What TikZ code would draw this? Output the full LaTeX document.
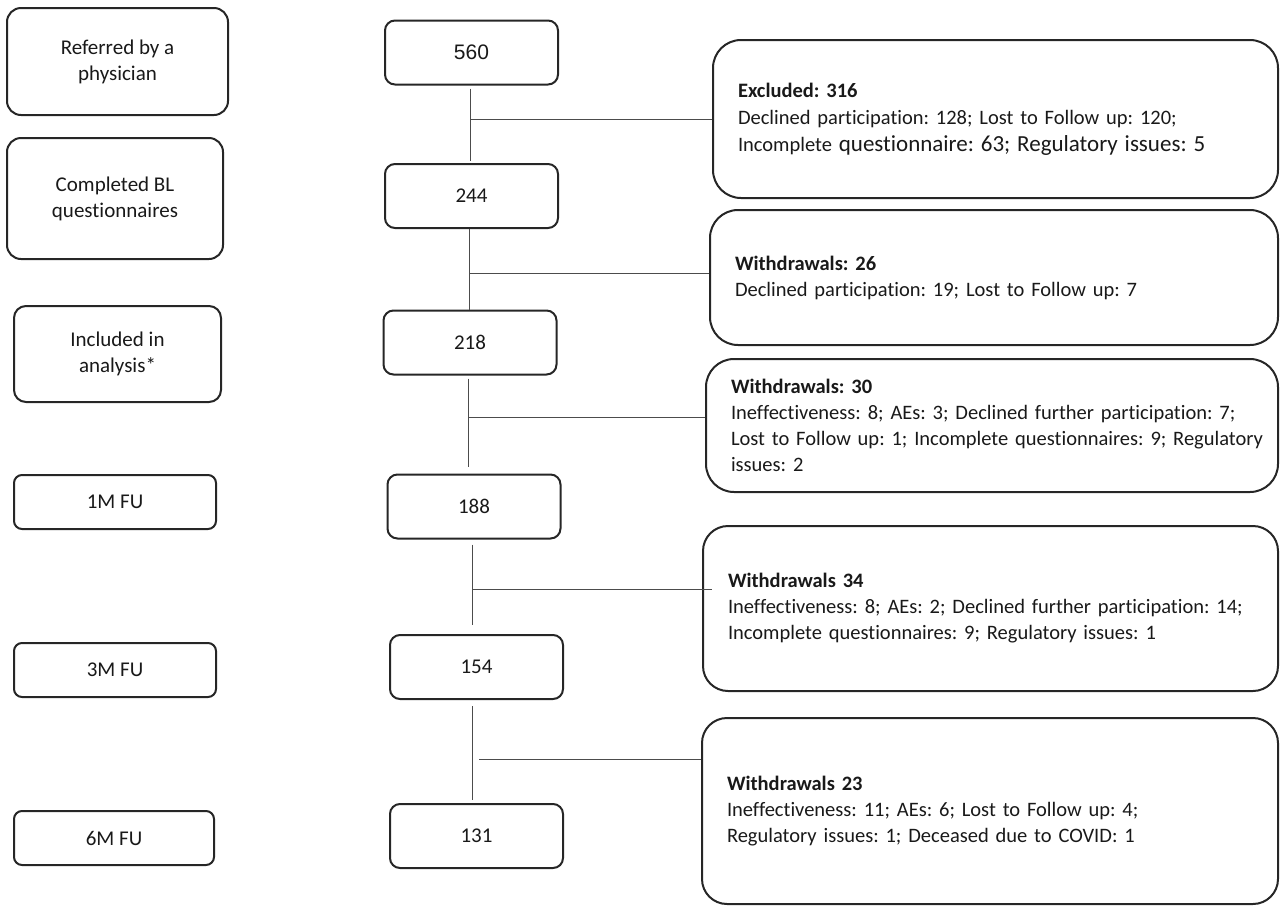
\documentclass[tikz,border=0pt]{standalone}
\usepackage{fontspec}
\setmainfont{Carlito}[Ligatures=NoCommon]
\newfontfamily\arialfont{Liberation Sans}
\frenchspacing

\begin{document}
\begin{tikzpicture}[yscale=-1, x=0.5pt, y=0.5pt,
    every node/.style={font=\fontsize{10.5}{13}\selectfont, text=black!90},
    phase/.style={draw=black!85, line width=1pt, rounded corners=4pt, align=center, inner sep=0pt},
    count/.style={draw=black!85, line width=1pt, rounded corners=5pt, minimum width=86.5pt, minimum height=32pt, inner sep=0pt},
    reason/.style={draw=black!85, line width=1pt, rounded corners=14pt, align=left, inner xsep=12.5pt, inner ysep=0pt,
        font=\fontsize{10.25}{13}\selectfont},
    flow/.style={draw=black!70, line width=0.5pt}]
    \useasboundingbox (0,0) rectangle (1281,906);

    % time points
    \node [phase, rounded corners=7pt, minimum width=110.5pt, minimum height=53.5pt] (referred) at (117.5,61.5) {Referred by a\\physician};
    \node [phase, rounded corners=7pt, minimum width=108pt, minimum height=60.5pt] (completed) at (115,198.5) {Completed BL\\questionnaires};
    \node [phase, rounded corners=6pt, minimum width=103.5pt, minimum height=48pt] (included) at (117.5,354) {Included in\\analysis*};
    \node [phase, minimum width=101pt, minimum height=27pt] (fu1) at (115,502) {1M FU};
    \node [phase, minimum width=101pt, minimum height=27pt] (fu3) at (115,670) {3M FU};
    \node [phase, minimum width=100pt, minimum height=27pt] (fu6) at (114,838) {6M FU};

    % participants
    \node [count] (n560) at (471.5,52.5) {\arialfont 560};
    \node [count] (n244) at (471.5,196) {244};
    \node [count] (n218) at (470,342.5) {218};
    \node [count] (n188) at (474,506.5) {188};
    \node [count] (n154) at (476.5,667) {154};
    \node [count] (n131) at (476.5,836) {131};

    % exclusions and withdrawals
    \node [reason, font=\fontsize{10.25}{13.5}\selectfont, text width=257.5pt, minimum height=79pt] (excl) at (995.5,119)
        {\textbf{Excluded: 316}\\Declined participation: 128; Lost to Follow up: 120;\\\mbox{Incomplete {\fontsize{11.5}{13.5}\selectfont questionnaire: 63; Regulatory issues: 5}}};
    \node [reason, text width=259pt, minimum height=67.5pt] (wd26) at (994,277.5)
        {\textbf{Withdrawals: 26}\\Declined participation: 19; Lost to Follow up: 7};
    \node [reason, text width=261pt, minimum height=66.5pt] (wd30) at (992,425.5)
        {\textbf{Withdrawals: 30}\\\mbox{Ineffectiveness: 8; AEs: 3; Declined further participation: 7;}\\\mbox{Lost to Follow up: 1; Incomplete questionnaires: 9; Regulatory}\\issues: 2};
    \node [reason, rounded corners=12.5pt, text width=262.5pt, minimum height=82.5pt] (wd34) at (990.5,608.5)
        {\textbf{Withdrawals 34}\\\mbox{Ineffectiveness: 8; AEs: 2; Declined further participation: 14;}\\Incomplete questionnaires: 9; Regulatory issues: 1};
    \node [reason, rounded corners=12.5pt, text width=263pt, minimum height=93pt] (wd23) at (990,811)
        {\textbf{Withdrawals 23}\\Ineffectiveness: 11; AEs: 6; Lost to Follow up: 4;\\Regulatory issues: 1; Deceased due to COVID: 1};

    % junctions on the flow line
    \coordinate (s1) at (470,119);
    \coordinate (s2) at (469,273);
    \coordinate (s3) at (468,417);
    \coordinate (s4) at (472,589);
    \coordinate (s5) at (472,759);

    \draw [flow, shorten <=1.5pt, shorten >=1pt] (s1 |- n560.south) -- (s1 |- n244.north);
    \draw [flow] (s2 |- n244.south) -- (s2 |- n218.north);
    \draw [flow, shorten <=1.5pt, shorten >=3.5pt] (s3 |- n218.south) -- (s3 |- n188.north);
    \draw [flow, shorten <=2.5pt, shorten >=4.5pt] (s4 |- n188.south) -- (s4 |- n154.north);
    \draw [flow, shorten <=3pt, shorten >=1.5pt] (s5 |- n154.south) -- (s5 |- n131.north);

    \draw [flow] (s1) -- (s1 -| excl.west);
    \draw [flow] (s2) -- (s2 -| wd26.west);
    \draw [flow] (s3) -- (s3 -| wd30.west);
    \draw [flow, shorten >=-5pt] (s4) -- (s4 -| wd34.west);
    \draw [flow, shorten <=3.5pt] (s5) -- (s5 -| wd23.west);
\end{tikzpicture}
\end{document}
